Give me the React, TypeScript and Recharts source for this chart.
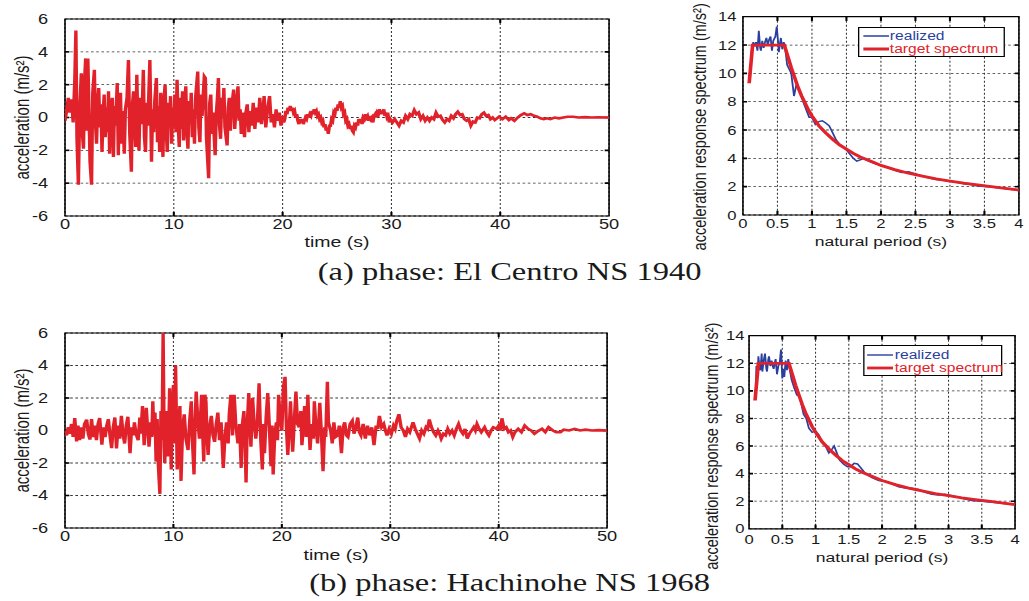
import React from 'react';
import { LineChart, Line, XAxis, YAxis, CartesianGrid, ReferenceArea, ReferenceLine } from 'recharts';

// The original figure is stretched horizontally; we draw in "natural" units and stretch.
const S = 1.3;

const FONT = '"Liberation Sans", Arial, Helvetica, sans-serif';
const SERIF = '"Liberation Serif", "Times New Roman", serif';
const RED = '#e1222a';
const BLUE = '#2b3f9f';

// ---------------- data ----------------
const timeTicks = [0, 10, 20, 30, 40, 50];
const accelTicks = [-6, -4, -2, 0, 2, 4, 6];
const periodTicks = [0, 0.5, 1, 1.5, 2, 2.5, 3, 3.5, 4];
const spectrumTicks = [0, 2, 4, 6, 8, 10, 12, 14];
const seriesNames = ['realized', 'target spectrum'];
const captions = ['(a) phase: El Centro NS 1940', '(b) phase: Hachinohe NS 1968'];
const axisTitles = {
  time: 'time (s)',
  accel: 'acceleration (m/s²)',
  period: 'natural period (s)',
  spectrum: 'acceleration response spectrum (m/s²)',
};

type Pair = [number, number];

// time (s), acceleration (m/s²) — El Centro phase
const elCentroAccel: Pair[] = [
  [0.0, -0.2], [0.15, 0.4], [0.3, 1.2], [0.45, 0.3], [0.6, 1.1], [0.75, -0.3], [0.9, 2.3], [1.0, 5.3],
  [1.1, -1.3], [1.23, -4.1], [1.35, 0.5], [1.5, 2.7], [1.6, -1.0], [1.7, -1.9], [1.8, 2.3], [1.9, 3.6],
  [2.0, -0.8], [2.1, 3.6], [2.2, 0.5], [2.3, -2.7], [2.44, -4.1], [2.55, 1.5], [2.7, 2.9], [2.8, -0.3],
  [2.9, -1.6], [3.0, 0.9], [3.1, 1.8], [3.2, -0.6], [3.3, 0.8], [3.4, -2.1], [3.5, 0.2], [3.6, 1.4],
  [3.7, -1.2], [3.8, 0.6], [3.9, -0.9], [4.0, 1.6], [4.1, -2.2], [4.2, 0.4], [4.35, 1.2], [4.45, -2.4],
  [4.55, 0.7], [4.65, -0.5], [4.8, 2.1], [4.9, -2.3], [5.0, 0.9], [5.1, 1.5], [5.2, -1.6], [5.3, 0.4],
  [5.45, -2.2], [5.55, 0.5], [5.7, 1.2], [5.83, 3.5], [5.95, -1.0], [6.1, -3.3], [6.2, 0.8], [6.3, 1.6],
  [6.4, -0.4], [6.5, -1.8], [6.6, 2.6], [6.7, -0.6], [6.8, -2.0], [6.9, 1.2], [7.0, -0.4], [7.1, 0.6],
  [7.2, 2.9], [7.3, -1.2], [7.4, -2.1], [7.5, 0.9], [7.6, -0.5], [7.7, 1.4], [7.8, 3.5], [7.95, -2.7],
  [8.05, 0.5], [8.15, -0.9], [8.25, 1.0], [8.4, 2.4], [8.5, -1.5], [8.6, 0.7], [8.7, -2.1], [8.8, 1.5],
  [8.9, 0.2], [9.0, -2.4], [9.1, 1.1], [9.2, 2.0], [9.3, -0.8], [9.4, -2.1], [9.5, 0.9], [9.6, -0.5],
  [9.7, 1.3], [9.8, -1.6], [9.9, 0.6], [10.0, -0.6], [10.1, 1.4], [10.2, -0.9], [10.3, 2.3], [10.4, -0.4],
  [10.5, -1.8], [10.6, 1.2], [10.7, -0.7], [10.8, 1.6], [10.9, -1.4], [11.0, 0.3], [11.1, 1.9], [11.2, -0.8],
  [11.3, -1.9], [11.4, 1.0], [11.5, -0.3], [11.6, 1.5], [11.7, -1.2], [11.8, 0.5], [11.9, -1.6], [12.0, 1.2],
  [12.2, 2.8], [12.3, -0.6], [12.4, -1.5], [12.5, 1.4], [12.6, 0.1], [12.8, 2.5], [12.9, 2.4], [13.0, -1.2],
  [13.2, -3.7], [13.3, 0.9], [13.4, 1.4], [13.5, -1.0], [13.6, 0.3], [13.8, -2.3], [13.9, 0.2], [14.0, 1.1],
  [14.1, 2.4], [14.2, -0.5], [14.3, -1.3], [14.4, 1.2], [14.5, 0.1], [14.6, 1.8], [14.7, -0.6], [14.9, -1.7],
  [15.0, 0.6], [15.1, 1.2], [15.2, -0.8], [15.3, 0.5], [15.5, 1.7], [15.6, -0.7], [15.7, 0.4], [15.9, 1.9],
  [16.0, -0.2], [16.1, 0.5], [16.2, -1.0], [16.35, 0.3], [16.5, -1.2], [16.6, 0.2], [16.75, 0.8], [16.9, -0.9],
  [17.0, 0.4], [17.15, -0.5], [17.3, 0.9], [17.45, -0.7], [17.6, 0.6], [17.75, -0.3], [17.9, 1.2], [18.05, -0.4],
  [18.2, 0.5], [18.3, 1.3], [18.45, -0.6], [18.6, 0.4], [18.8, 1.3], [18.95, -0.3], [19.1, 0.2], [19.25, -0.6],
  [19.4, 0.5], [19.55, -0.2], [19.7, 0.3], [19.85, -0.5], [20.0, 0.1], [20.1, -0.3], [20.2, -0.1], [20.3, 0.4],
  [20.4, 0.2], [20.5, 0.6], [20.6, 0.4], [20.7, 0.7], [20.8, 0.4], [20.9, 0.6], [21.0, 0.3], [21.1, 0.4],
  [21.2, 0.0], [21.3, 0.2], [21.4, -0.2], [21.5, -0.4], [21.6, -0.1], [21.7, -0.3], [21.8, -0.1], [21.9, -0.4],
  [22.0, -0.2], [22.1, 0.0], [22.2, -0.1], [22.3, 0.2], [22.4, 0.0], [22.5, 0.2], [22.6, 0.1], [22.7, 0.4],
  [22.8, 0.2], [22.9, 0.5], [23.0, 0.3], [23.1, 0.4], [23.2, 0.1], [23.3, 0.2], [23.4, -0.1], [23.5, 0.0],
  [23.6, -0.3], [23.7, -0.2], [23.8, -0.6], [23.9, -0.4], [24.0, -0.8], [24.1, -0.6], [24.2, -1.0], [24.3, -0.5],
  [24.4, -0.5], [24.5, -0.1], [24.6, -0.2], [24.7, 0.3], [24.8, 0.2], [24.9, 0.6], [25.0, 0.4], [25.1, 0.8],
  [25.2, 0.6], [25.3, 1.0], [25.4, 0.6], [25.5, 0.7], [25.6, 0.2], [25.7, 0.3], [25.8, -0.2], [25.9, -0.1],
  [26.0, -0.5], [26.1, -0.4], [26.2, -0.7], [26.3, -0.5], [26.4, -0.8], [26.5, -0.9], [26.6, -0.5], [26.7, -0.6],
  [26.8, -0.3], [26.9, -0.5], [27.0, -0.1], [27.1, -0.3], [27.2, -0.1], [27.3, -0.4], [27.4, 0.0], [27.5, -0.1],
  [27.6, 0.2], [27.7, 0.0], [27.8, 0.1], [27.9, -0.2], [28.0, 0.1], [28.1, -0.1], [28.2, 0.0], [28.3, -0.3],
  [28.4, 0.1], [28.5, 0.2], [28.6, 0.0], [28.7, 0.3], [28.8, 0.2], [28.9, 0.5], [29.0, 0.2], [29.1, 0.4],
  [29.2, 0.2], [29.3, 0.5], [29.4, 0.1], [29.5, 0.3], [29.6, 0.0], [29.7, 0.1], [29.8, -0.3], [29.9, -0.1],
  [30.1, -0.3], [30.3, -0.1], [30.5, -0.3], [30.7, -0.5], [30.9, -0.2], [31.1, -0.3], [31.3, 0.1], [31.5, -0.1],
  [31.7, 0.2], [31.9, 0.1], [32.1, 0.45], [32.3, 0.2], [32.5, 0.3], [32.7, -0.1], [32.9, 0.1], [33.1, -0.2],
  [33.3, 0.0], [33.5, -0.2], [33.7, 0.0], [33.9, -0.1], [34.1, 0.3], [34.3, 0.05], [34.5, 0.1], [34.7, -0.15],
  [34.9, -0.3], [35.1, -0.1], [35.3, -0.2], [35.5, 0.1], [35.7, -0.05], [35.9, 0.2], [36.1, 0.35], [36.3, 0.15],
  [36.5, 0.2], [36.7, -0.1], [36.9, -0.2], [37.1, -0.1], [37.3, -0.5], [37.5, -0.25], [37.7, -0.3], [37.9, 0.0],
  [38.1, -0.05], [38.3, 0.2], [38.5, 0.3], [38.7, 0.1], [38.9, 0.15], [39.1, -0.1], [39.3, 0.0], [39.5, -0.15],
  [39.7, -0.05], [39.9, 0.05], [40.2, -0.1], [40.5, 0.05], [40.8, -0.15], [41.0, -0.05], [41.3, -0.2], [41.6, 0.0],
  [41.9, 0.15], [42.2, 0.25], [42.5, 0.15], [42.8, 0.2], [43.1, 0.1], [43.4, 0.05], [43.7, -0.05], [44.0, -0.1],
  [44.3, -0.05], [44.6, -0.1], [45.0, 0.0], [45.4, -0.05], [45.8, 0.0], [46.2, 0.05], [46.7, 0.05], [47.2, 0.0],
  [47.8, 0.02], [48.4, 0.0], [49.0, 0.01], [50.0, 0.0],
];

// time (s), acceleration (m/s²) — Hachinohe phase
const hachinoheAccel: Pair[] = [
  [0.0, 0.0], [0.15, -0.3], [0.3, 0.2], [0.45, -0.2], [0.6, 0.4], [0.75, -0.4], [0.9, 0.77], [1.07, -0.67],
  [1.2, 0.3], [1.35, -0.6], [1.5, 0.2], [1.65, -0.5], [1.8, 0.4], [2.0, 0.67], [2.15, -0.2], [2.3, -0.56],
  [2.45, 0.7], [2.6, -0.4], [2.75, 0.3], [2.9, -0.6], [3.05, 0.4], [3.2, 0.77], [3.4, -0.87], [3.55, 0.2],
  [3.7, -0.4], [3.85, 0.3], [4.0, 0.7], [4.15, -0.3], [4.3, -1.08], [4.45, 0.2], [4.6, 0.8], [4.75, -1.1],
  [4.9, 0.3], [5.05, -0.5], [5.2, 0.9], [5.35, -0.2], [5.5, -0.8], [5.65, 0.3], [5.8, 0.85], [6.0, -1.4],
  [6.15, 0.2], [6.3, -0.3], [6.4, 0.5], [6.55, -0.2], [6.75, -0.6], [6.9, 0.8], [7.0, -0.2], [7.15, 1.5],
  [7.3, -0.9], [7.5, 1.4], [7.6, 0.3], [7.75, -1.0], [7.9, 0.5], [8.0, -0.4], [8.1, 1.8], [8.2, -0.3],
  [8.3, 1.1], [8.4, -1.9], [8.5, 0.7], [8.6, -2.0], [8.75, -3.9], [8.85, 1.2], [8.95, -0.6], [9.05, 6.0],
  [9.15, -1.0], [9.2, -2.0], [9.3, 0.5], [9.35, 1.2], [9.45, -1.0], [9.5, -1.6], [9.6, 1.0], [9.65, 2.6],
  [9.72, 0.3], [9.8, -2.4], [9.9, 1.0], [10.0, 2.8], [10.1, -0.8], [10.2, 4.0], [10.28, 0.5], [10.35, -2.4],
  [10.45, -0.2], [10.6, 1.5], [10.7, -3.1], [10.85, 0.2], [11.0, 1.0], [11.15, -0.5], [11.35, -1.2], [11.5, 0.6],
  [11.65, 1.8], [11.75, -0.6], [11.9, -2.7], [12.0, 0.5], [12.1, 2.4], [12.25, 0.6], [12.4, -0.5], [12.5, 0.8],
  [12.6, 2.2], [12.7, -0.2], [12.8, -1.9], [12.9, 2.2], [13.0, 1.8], [13.1, -0.4], [13.2, -1.5], [13.35, 0.3],
  [13.5, 0.9], [13.65, -0.3], [13.8, -0.7], [13.95, 0.4], [14.1, 1.1], [14.25, -0.6], [14.4, 0.5], [14.6, -2.3],
  [14.75, -0.4], [14.9, 0.5], [15.05, -0.8], [15.15, 1.0], [15.3, 2.2], [15.45, -0.3], [15.6, 2.2], [15.75, 0.4],
  [15.95, -0.8], [16.1, 0.4], [16.25, -2.3], [16.35, 0.3], [16.5, 1.2], [16.6, -0.6], [16.7, -3.2], [16.8, 0.2],
  [16.95, 2.3], [17.05, 0.3], [17.15, -1.0], [17.3, 2.0], [17.45, 0.4], [17.6, -0.5], [17.75, 0.6], [17.9, 2.9],
  [18.05, -0.5], [18.2, -2.4], [18.3, 0.4], [18.4, -1.4], [18.55, 0.8], [18.7, 2.3], [18.85, 0.2], [19.0, -2.2],
  [19.1, 0.3], [19.2, -2.7], [19.35, -0.2], [19.5, 0.5], [19.6, -0.6], [19.7, 2.2], [19.85, 0.8], [20.0, 0.0],
  [20.15, 2.7], [20.3, 3.3], [20.42, 0.2], [20.55, -1.5], [20.7, 0.4], [20.8, 1.8], [20.9, 0.1], [21.0, -1.3],
  [21.15, 0.6], [21.3, 2.4], [21.45, 0.4], [21.6, 0.2], [21.75, 1.2], [21.85, -0.9], [22.0, 0.3], [22.1, 1.5],
  [22.25, -0.4], [22.4, 2.2], [22.5, 0.3], [22.6, -1.2], [22.75, 0.4], [22.9, -0.5], [23.0, 1.8], [23.15, 0.1],
  [23.3, -0.8], [23.5, 1.7], [23.65, -0.2], [23.8, -2.5], [23.95, 0.2], [24.05, -0.4], [24.2, 3.0], [24.3, 0.5],
  [24.5, 0.0], [24.65, -0.8], [24.8, 0.5], [24.95, -0.4], [25.15, -0.3], [25.3, 0.3], [25.5, -1.4], [25.65, 0.2],
  [25.8, 0.5], [25.95, -0.3], [26.1, -0.4], [26.3, 0.4], [26.5, 0.6], [26.65, -0.2], [26.8, 0.1], [27.0, 0.8],
  [27.15, -0.1], [27.3, -0.3], [27.5, 0.4], [27.7, -0.5], [27.9, 0.3], [28.1, -0.3], [28.3, 0.2], [28.5, -0.9],
  [28.7, 0.3], [28.85, 0.1], [29.0, 0.9], [29.2, 0.2], [29.4, 0.4], [29.55, 0.0], [29.7, -0.3], [29.9, 0.1],
  [30.1, -0.2], [30.3, 0.3], [30.45, 0.1], [30.6, 0.6], [30.8, 1.0], [31.0, 0.2], [31.2, 0.0], [31.4, -0.4],
  [31.6, 0.1], [31.8, -0.1], [31.95, 0.2], [32.1, 0.5], [32.3, 0.1], [32.5, -0.2], [32.7, -0.5], [32.9, 0.0],
  [33.1, -0.2], [33.3, 0.2], [33.45, 0.1], [33.6, 0.68], [33.8, 0.2], [34.0, -0.1], [34.2, -0.3], [34.4, 0.0],
  [34.55, -0.2], [34.7, -0.5], [34.9, -0.2], [35.1, -0.3], [35.3, 0.1], [35.5, -0.2], [35.7, 0.0], [35.9, -0.3],
  [36.1, 0.1], [36.3, 0.4], [36.5, 0.0], [36.7, -0.2], [36.9, 0.1], [37.1, -0.5], [37.3, -0.2], [37.5, 0.0],
  [37.7, 0.2], [37.85, 0.0], [38.0, 0.4], [38.2, 0.1], [38.4, -0.1], [38.7, 0.2], [38.9, -0.1], [39.1, -0.3],
  [39.3, 0.0], [39.5, 0.2], [39.8, 0.1], [40.0, 0.3], [40.15, 0.0], [40.3, 0.75], [40.5, 0.1], [40.7, 0.2],
  [40.9, -0.1], [41.1, 0.0], [41.3, -0.4], [41.5, -0.1], [41.8, 0.1], [42.1, -0.1], [42.4, 0.3], [42.7, 0.1],
  [43.0, 0.0], [43.3, -0.2], [43.6, -0.05], [44.0, 0.1], [44.3, -0.1], [44.6, 0.2], [45.0, 0.0], [45.3, -0.1],
  [45.7, -0.1], [46.0, 0.05], [46.5, 0.0], [47.0, 0.1], [47.5, 0.0], [48.0, 0.05], [48.6, 0.0], [49.2, 0.02],
  [50.0, 0.0],
];

// natural period (s), spectral acceleration (m/s²)
const targetSpectrum: Pair[] = [
  [0.09, 9.3], [0.14, 12.0], [0.6, 12.0], [0.65, 11.2], [0.7, 10.4], [0.75, 9.7], [0.8, 9.0], [0.85, 8.4],
  [0.9, 7.9], [0.95, 7.4], [1.0, 7.0], [1.1, 6.3], [1.2, 5.8], [1.3, 5.35], [1.4, 4.95], [1.5, 4.65],
  [1.6, 4.35], [1.7, 4.1], [1.8, 3.9], [1.9, 3.7], [2.0, 3.5], [2.2, 3.2], [2.4, 2.95], [2.6, 2.75],
  [2.8, 2.55], [3.0, 2.4], [3.2, 2.25], [3.4, 2.12], [3.6, 2.0], [3.8, 1.88], [4.0, 1.76],
];

const elCentroRealized: Pair[] = [
  [0.1, 9.5], [0.13, 11.7], [0.15, 12.2], [0.17, 11.9], [0.19, 12.2], [0.21, 11.6], [0.23, 13.0], [0.25, 11.8],
  [0.26, 11.6], [0.28, 12.3], [0.3, 11.8], [0.32, 12.2], [0.34, 12.5], [0.36, 12.0], [0.38, 12.4], [0.4, 12.6],
  [0.42, 11.6], [0.44, 12.3], [0.47, 12.6], [0.49, 13.3], [0.51, 12.2], [0.52, 11.5], [0.54, 12.2], [0.55, 12.5],
  [0.57, 11.7], [0.59, 12.2], [0.61, 11.9], [0.64, 10.6], [0.67, 10.3], [0.7, 10.0], [0.72, 9.2], [0.74, 8.4],
  [0.77, 9.1], [0.8, 9.0], [0.84, 8.5], [0.88, 7.9], [0.92, 7.4], [0.96, 6.9], [1.0, 6.9], [1.05, 6.4],
  [1.1, 6.6], [1.15, 6.65], [1.2, 6.5], [1.25, 6.3], [1.3, 5.8], [1.35, 5.3], [1.4, 5.0], [1.45, 4.8],
  [1.5, 4.6], [1.55, 4.3], [1.6, 4.0], [1.65, 3.8], [1.7, 3.9], [1.75, 4.0], [1.8, 3.85], [1.9, 3.65],
  [2.0, 3.5], [2.1, 3.35], [2.2, 3.15], [2.3, 3.0], [2.4, 3.05], [2.5, 2.9], [2.6, 2.75], [2.7, 2.6],
  [2.8, 2.5], [2.9, 2.45], [3.0, 2.4], [3.1, 2.3], [3.2, 2.2], [3.3, 2.15], [3.4, 2.05], [3.5, 2.0],
  [3.6, 1.98], [3.7, 1.92], [3.8, 1.86], [3.9, 1.8], [4.0, 1.75],
];

const hachinoheRealized: Pair[] = [
  [0.1, 9.5], [0.11, 11.8], [0.13, 11.2], [0.14, 12.5], [0.16, 11.6], [0.17, 11.5], [0.19, 12.7], [0.2, 11.4],
  [0.22, 12.2], [0.24, 12.7], [0.26, 11.6], [0.27, 11.4], [0.29, 12.3], [0.3, 12.5], [0.32, 11.8], [0.34, 12.2],
  [0.35, 11.9], [0.37, 11.6], [0.39, 12.1], [0.4, 12.3], [0.42, 11.2], [0.44, 11.8], [0.46, 12.0], [0.48, 13.0],
  [0.5, 10.9], [0.52, 11.6], [0.53, 11.0], [0.55, 12.2], [0.57, 11.5], [0.59, 12.3], [0.61, 11.6], [0.64, 10.8],
  [0.68, 10.2], [0.72, 9.7], [0.76, 9.6], [0.78, 9.2], [0.82, 8.3], [0.86, 8.0], [0.9, 7.3], [0.95, 7.0],
  [1.0, 7.1], [1.05, 6.8], [1.1, 6.3], [1.15, 6.0], [1.2, 5.5], [1.25, 5.8], [1.28, 6.0], [1.32, 5.5],
  [1.36, 5.0], [1.42, 4.7], [1.48, 4.5], [1.53, 4.5], [1.58, 4.75], [1.63, 4.7], [1.7, 4.3], [1.75, 4.0],
  [1.85, 3.7], [1.95, 3.5], [2.05, 3.45], [2.15, 3.25], [2.25, 3.05], [2.35, 2.95], [2.45, 2.95], [2.55, 2.85],
  [2.65, 2.65], [2.75, 2.5], [2.85, 2.45], [2.95, 2.5], [3.05, 2.4], [3.15, 2.3], [3.25, 2.15], [3.35, 2.05],
  [3.5, 2.0], [3.7, 1.9], [3.9, 1.8], [4.0, 1.75],
];

// ---------------- helpers ----------------
const rows = (p: Pair[]) => p.map(([x, y]) => ({ x, y }));

type Seg = [{ x: number; y: number }, { x: number; y: number }];
function edgeTickSegments(xTicks: number[], yTicks: number[], xd: [number, number], yd: [number, number], lx: number, ly: number): Seg[] {
  const segs: Seg[] = [];
  xTicks.filter((t) => t > xd[0] && t < xd[1]).forEach((t) => {
    segs.push([{ x: t, y: yd[0] }, { x: t, y: yd[0] + ly }]);
    segs.push([{ x: t, y: yd[1] - ly }, { x: t, y: yd[1] }]);
  });
  yTicks.filter((t) => t > yd[0] && t < yd[1]).forEach((t) => {
    segs.push([{ x: xd[0], y: t }, { x: xd[0] + lx, y: t }]);
    segs.push([{ x: xd[1] - lx, y: t }, { x: xd[1], y: t }]);
  });
  return segs;
}

const YTitle = (props: any) => {
  const { viewBox, titleText, offX, offY, fsize } = props;
  const x = viewBox.x + offX;
  const y = viewBox.y + viewBox.height / 2 + offY;
  return (
    <text x={x} y={y} transform={`rotate(-90 ${x} ${y})`} textAnchor="middle" dominantBaseline="central"
      fontSize={fsize} fontFamily={FONT} fill="#1a1a1a">{titleText}</text>
  );
};

const XTitle = (props: any) => {
  const { viewBox, titleText, offY, fsize } = props;
  const x = viewBox.x + viewBox.width / 2;
  const y = viewBox.y + offY;
  return (
    <text x={x} y={y} textAnchor="middle" dominantBaseline="central" fontSize={fsize} fontFamily={FONT} fill="#1a1a1a">{titleText}</text>
  );
};

type Series = { data: { x: number; y: number }[]; color: string; width: number; name: string };
type PanelProps = {
  left: number; top: number; width: number; height: number;
  mt: number; mr: number; yWidth: number; xHeight: number;
  xDomain: [number, number]; xTicks: number[];
  yDomain: [number, number]; yTicks: number[];
  tickFont: number; xTickMargin: number; yTickMargin: number;
  xTitle: string; xTitleY: number; xTitleFont: number;
  yTitle: string; yTitleX: number; yTitleDy: number; yTitleFont: number;
  series: Series[]; tickLen: [number, number];
};

const Panel = (p: PanelProps) => {
  const segs = edgeTickSegments(p.xTicks, p.yTicks, p.xDomain, p.yDomain, p.tickLen[0], p.tickLen[1]);
  const tickStyle = { fontSize: p.tickFont, fill: '#1a1a1a', fontFamily: FONT };
  return (
    <div style={{ position: 'absolute', left: p.left, top: p.top }}>
      <LineChart width={p.width} height={p.height} margin={{ top: p.mt, right: p.mr, left: 0, bottom: 0 }}>
        <CartesianGrid stroke="#333" strokeWidth={0.8} strokeDasharray="2 2" />
        <XAxis type="number" dataKey="x" domain={p.xDomain} ticks={p.xTicks} interval={0} allowDataOverflow
          height={p.xHeight} tickSize={0} tickMargin={p.xTickMargin} axisLine={false} tickLine={false} tick={tickStyle}
          label={<XTitle titleText={p.xTitle} offY={p.xTitleY} fsize={p.xTitleFont} />} />
        <YAxis type="number" domain={p.yDomain} ticks={p.yTicks} interval={0} allowDataOverflow
          width={p.yWidth} tickSize={0} tickMargin={p.yTickMargin} axisLine={false} tickLine={false} tick={tickStyle}
          label={<YTitle titleText={p.yTitle} offX={p.yTitleX} offY={p.yTitleDy} fsize={p.yTitleFont} />} />
        <ReferenceArea x1={p.xDomain[0]} x2={p.xDomain[1]} y1={p.yDomain[0]} y2={p.yDomain[1]} fill="none" fillOpacity={0} stroke="#000" strokeWidth={1.2} />
        {segs.map((s, i) => (
          <ReferenceLine key={i} segment={s} stroke="#000" strokeWidth={1.6} ifOverflow="visible" />
        ))}
        {p.series.map((s) => (
          <Line key={s.name} name={s.name} data={s.data} dataKey="y" type="linear" stroke={s.color} strokeWidth={s.width}
            strokeLinejoin="miter" dot={false} activeDot={false} isAnimationActive={false} />
        ))}
      </LineChart>
    </div>
  );
};

const LegendBox = ({ left, top, width, height, rowsY, fsize }: { left: number; top: number; width: number; height: number; rowsY: number[]; fsize: number }) => {
  const items = [
    { name: seriesNames[0], color: BLUE, w: 1.4 },
    { name: seriesNames[1], color: RED, w: 2.8 },
  ];
  return (
    <div style={{ position: 'absolute', left, top, width, height, border: '1px solid #000', background: '#fff', boxSizing: 'border-box', fontFamily: FONT, fontSize: fsize }}>
      {items.map((it, i) => (
        <div key={it.name} style={{ position: 'absolute', left: 2.5, top: rowsY[i] - 7, height: 14, display: 'flex', alignItems: 'center', whiteSpace: 'nowrap' }}>
          <svg width={20} height={14} style={{ display: 'block' }}>
            <line x1={0} x2={20} y1={7} y2={7} stroke={it.color} strokeWidth={it.w} />
          </svg>
          <span style={{ color: it.color, marginLeft: 1, lineHeight: '14px' }}>{it.name}</span>
        </div>
      ))}
    </div>
  );
};

const Caption = ({ text, top }: { text: string; top: number }) => (
  <div style={{ position: 'absolute', left: 392 - 250, width: 500, top, textAlign: 'center', fontFamily: SERIF, fontSize: 25, lineHeight: '25px', color: '#1a1a1a', whiteSpace: 'nowrap' }}>{text}</div>
);

export default function App() {
  const ecAccel = rows(elCentroAccel);
  const hcAccel = rows(hachinoheAccel);
  const target = rows(targetSpectrum);
  const ecReal = rows(elCentroRealized);
  const hcReal = rows(hachinoheRealized);

  const timeCommon = {
    xDomain: [0, 50] as [number, number], xTicks: timeTicks,
    yDomain: [-6, 6] as [number, number], yTicks: accelTicks,
    tickFont: 14, xTickMargin: 3, yTickMargin: 13,
    xTitle: axisTitles.time, xTitleFont: 15,
    yTitle: axisTitles.accel, yTitleX: 17, yTitleDy: 0, yTitleFont: 15,
    tickLen: [0.4, 0.25] as [number, number],
    yWidth: 50, mr: 10,
  };
  const specCommon = {
    xDomain: [0, 4] as [number, number], xTicks: periodTicks,
    yDomain: [0, 14] as [number, number], yTicks: spectrumTicks,
    tickFont: 12.8, xTitle: axisTitles.period, xTitleFont: 13.5,
    yTitle: axisTitles.spectrum, yTitleFont: 14.5,
    tickLen: [0.06, 0.3] as [number, number],
    mr: 8,
  };

  return (
    <div style={{ position: 'absolute', left: 0, top: 0, width: 1029 / S, height: 601, transform: `scaleX(${S})`, transformOrigin: '0 0', background: '#fff', overflow: 'hidden' }}>
      <Panel {...timeCommon} left={0} top={0} width={478.5} height={261} mt={19} xHeight={45} xTitleY={26}
        series={[{ data: ecAccel, color: RED, width: 2.6, name: 'El Centro' }]} />
      <Panel {...timeCommon} left={0} top={314} width={477} height={259} mt={19} xHeight={45} xTitleY={27}
        series={[{ data: hcAccel, color: RED, width: 2.6, name: 'Hachinohe' }]} />

      <Panel {...specCommon} left={522} top={0} width={783.8 - 522 + 8} height={262} mt={16.7} yWidth={571.5 - 522} xHeight={47}
        xTickMargin={3.5} yTickMargin={5} xTitleY={26} yTitleX={16.5} yTitleDy={11}
        series={[{ data: ecReal, color: BLUE, width: 1.4, name: seriesNames[0] }, { data: target, color: RED, width: 2.8, name: seriesNames[1] }]} />
      <Panel {...specCommon} left={527} top={312} width={780.8 - 527 + 8} height={267} mt={23.7} yWidth={576.2 - 527} xHeight={50.2}
        xTickMargin={6} yTickMargin={3.5} xTitleY={28} yTitleX={20.7} yTitleDy={14}
        series={[{ data: hcReal, color: BLUE, width: 1.4, name: seriesNames[0] }, { data: target, color: RED, width: 2.8, name: seriesNames[1] }]} />

      <LegendBox left={660} top={26.7} width={113} height={30} rowsY={[8.3, 21.6]} fsize={12} />
      <LegendBox left={663.8} top={345} width={107.7} height={30.7} rowsY={[9.3, 22.3]} fsize={12} />

      <Caption text={captions[0]} top={259} />
      <Caption text={captions[1]} top={570} />
    </div>
  );
}
